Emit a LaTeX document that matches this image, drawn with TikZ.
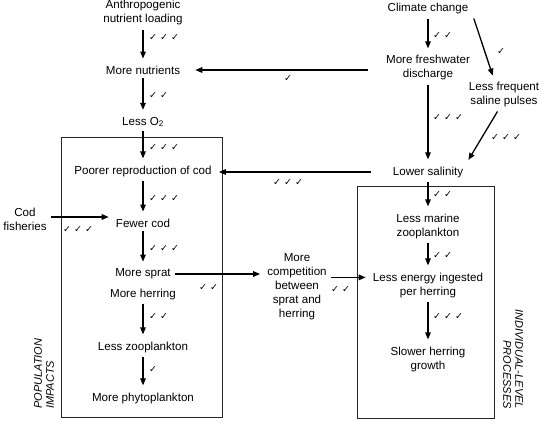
\documentclass[tikz,border=0pt]{standalone}
\usepackage{fontspec}
\setmainfont{Liberation Sans}
\newfontfamily\chkfont{DejaVu Sans}
\usetikzlibrary{arrows.meta}

\begin{document}
\begin{tikzpicture}[x=1pt,y=-1pt]
	\tikzstyle{txt}=[align=center,inner sep=3pt,font=\fontsize{11.6}{14}\selectfont]
	\tikzstyle{chk}=[anchor=west,inner sep=0pt,font=\chkfont\fontsize{9.5}{9.5}\selectfont]
	\tikzstyle{arr}=[-{Triangle[length=7pt,width=5.5pt]},line width=1.3pt,shorten >=4pt,shorten <=1pt]
	\tikzstyle{frame}=[line width=1pt,black!85]
	\tikzstyle{side}=[align=left,inner sep=0pt,font=\itshape\fontsize{11}{12}\selectfont]
	
	\useasboundingbox (0,0) rectangle (543,420);
	
	% the two boxes
	\draw[frame] (61,137) rectangle (222,417);
	\draw[frame] (357,186) rectangle (494,418);
	
	% population chain
	\node[txt] (anthro) at (143,13) {Anthropogenic\\nutrient loading};
	\node[txt] (nut) at (143,70) {More nutrients};
	\node[txt] (oxy) at (143,122) {Less O\textsubscript{2}};
	\node[txt] (poor) at (143,171) {Poorer reproduction of cod};
	\node[txt] (fewer) at (143,223) {Fewer cod};
	\node[txt] (sprat) at (143,274) {More sprat};
	\node[txt] (herring) at (143,294) {More herring};
	\node[txt] (zoo) at (143,347) {Less zooplankton};
	\node[txt] (phyto) at (143,398) {More phytoplankton};
	\node[txt] (fish) at (25,219) {Cod\\fisheries};
	\node[side,anchor=west,rotate=90] (pop) at (44,409) {POPULATION\\IMPACTS};
	
	% middle
	\node[txt] (comp) at (297,287) {More\\competition\\between\\sprat and\\herring};
	
	% climate chain
	\node[txt] (clim) at (428,9) {Climate change};
	\node[txt] (disch) at (428,68) {More freshwater\\discharge};
	\node[txt] (sal) at (504,95) {Less frequent\\saline pulses};
	\node[txt] (low) at (428,172) {Lower salinity};
	\node[txt] (marine) at (428,226) {Less marine\\zooplankton};
	\node[txt] (energy) at (428,285) {Less energy ingested\\per herring};
	\node[txt] (slower) at (428,359) {Slower herring\\growth};
	\node[side,align=right,anchor=east,rotate=-90] (ind) at (513,409) {INDIVIDUAL-LEVEL\\PROCESSES};
	
	% arrows
	\draw[arr] (anthro) -- (nut);
	\draw[arr] (nut) -- (oxy);
	\draw[arr] (oxy) -- (poor);
	\draw[arr] (poor) -- (fewer);
	\draw[arr] (fewer) -- (sprat);
	\draw[arr] (herring) -- (zoo);
	\draw[arr] (zoo) -- (phyto);
	\draw[arr] ([yshift=2pt]fish.east) -- ([yshift=2pt]fish.east -| fewer.west);
	\draw[arr] (sprat.east) -- (sprat.east -| comp.west);
	\draw[arr] (comp.east |- energy.north west) ++(0,8) -- ([yshift=-8pt]energy.north west);
	\draw[arr,shorten >=12pt] ([xshift=-14pt]disch.west |- nut.east) -- (nut.east);
	\draw[arr] ([xshift=-18pt]low.west) -- (low.west -| poor.east);
	\draw[arr] (clim) -- (disch);
	\draw[arr] (disch) -- (low);
	\draw[arr] ([xshift=2pt]clim.south east) -- ([xshift=-10pt]sal.north);
	\draw[arr] ([xshift=-6pt]sal.south) -- (low.north east);
	\draw[arr] (low) -- (marine);
	\draw[arr] (marine) -- (energy);
	\draw[arr] (energy) -- (slower);
	
	% ticks
	\node[chk] (c1) at (149,38) {✓ ✓ ✓};
	\node[chk] (c2) at (149,96) {✓ ✓};
	\node[chk] (c3) at (149,148) {✓ ✓ ✓};
	\node[chk] (c4) at (149,199) {✓ ✓ ✓};
	\node[chk] (c5) at (149,249) {✓ ✓ ✓};
	\node[chk] (c6) at (149,317) {✓ ✓};
	\node[chk] (c7) at (149,370) {✓};
	\node[chk] (c8) at (63,230) {✓ ✓ ✓};
	\node[chk] (c9) at (199,288) {✓ ✓};
	\node[chk] (c10) at (331,290) {✓ ✓};
	\node[chk] (c11) at (284,79) {✓};
	\node[chk] (c12) at (273,183) {✓ ✓ ✓};
	\node[chk] (c13) at (433,36) {✓ ✓};
	\node[chk] (c14) at (433,118) {✓ ✓ ✓};
	\node[chk] (c15) at (497,52) {✓};
	\node[chk] (c16) at (491,138) {✓ ✓ ✓};
	\node[chk] (c17) at (433,195) {✓ ✓};
	\node[chk] (c18) at (433,256) {✓ ✓};
	\node[chk] (c19) at (433,317) {✓ ✓ ✓};
\end{tikzpicture}
\end{document}
